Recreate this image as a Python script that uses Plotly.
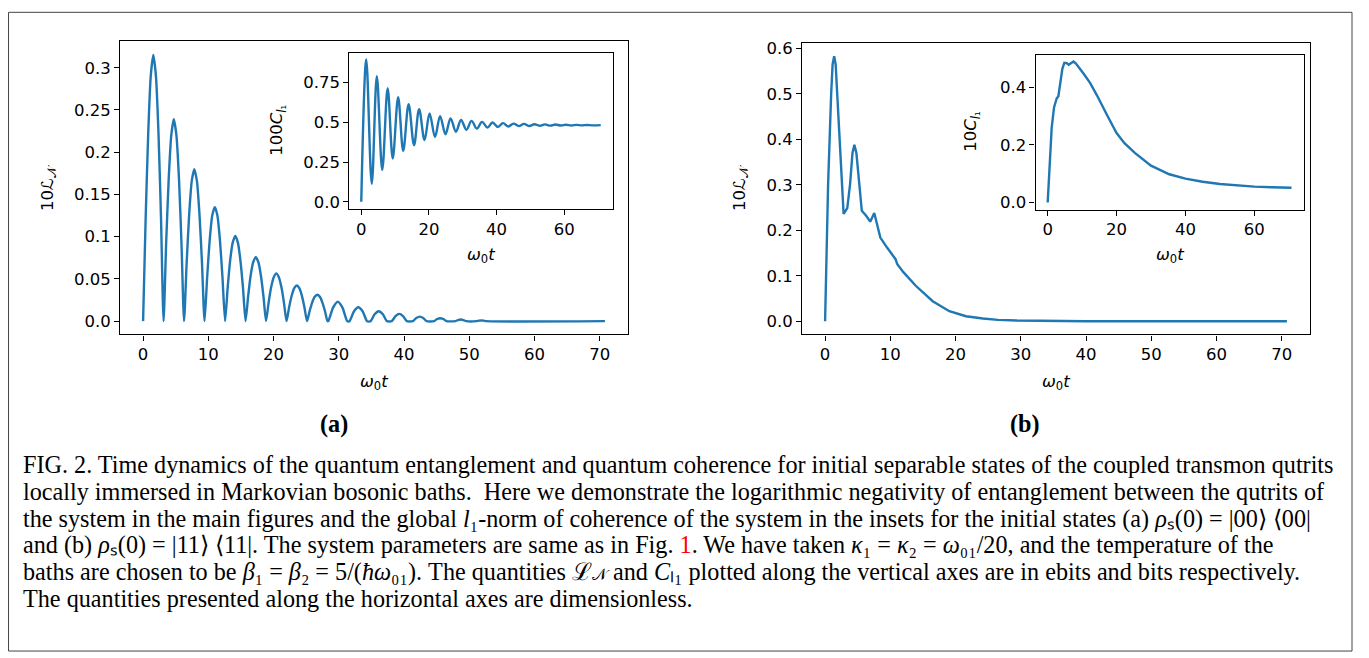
import plotly.graph_objects as go

# page has an 8px body margin, so the figure is drawn 8px right/down of the page origin
W, H = 1361, 650
OFF = 8

# ---------------- data ----------------
# (a) main: 10 L_N vs omega_0 t
t_a = [0, 0.39, 0.79, 1.18, 1.57, 1.96, 2.36, 2.75, 3.14,
       3.53, 3.93, 4.32, 4.71, 5.11, 5.50, 5.89, 6.28,
       6.68, 7.07, 7.46, 7.85, 8.25, 8.64, 9.03, 9.42,
       9.82, 10.21, 10.60, 11.00, 11.39, 11.78, 12.17, 12.57,
       12.96, 13.35, 13.74, 14.14, 14.53, 14.92, 15.32, 15.71,
       16.10, 16.49, 16.89, 17.28, 17.67, 18.06, 18.46, 18.85,
       19.24, 19.63, 20.03, 20.42, 20.81, 21.21, 21.60, 21.99,
       22.38, 22.78, 23.17, 23.56, 23.95, 24.35, 24.74, 25.13,
       25.53, 25.92, 26.31, 26.70, 27.10, 27.49, 27.88, 28.27,
       28.40, 29.12, 29.85, 30.57, 31.30,
       31.64, 32.32, 32.99, 33.67, 34.34,
       34.88, 35.50, 36.13, 36.76, 37.38,
       38.12, 38.70, 39.27, 39.85, 40.42,
       41.36, 41.89, 42.41, 42.94, 43.46,
       44.60, 45.08, 45.55, 46.03, 46.50,
       47.84, 48.27, 48.69, 49.12, 49.54,
       51.09, 51.47, 51.84, 52.22, 52.59,
       70.8]
ln_a = [0, 0.121, 0.223, 0.291, 0.315, 0.291, 0.223, 0.121, 0,
        0.091, 0.169, 0.220, 0.239, 0.220, 0.169, 0.091, 0,
        0.069, 0.127, 0.166, 0.180, 0.166, 0.127, 0.069, 0,
        0.052, 0.096, 0.125, 0.135, 0.125, 0.096, 0.052, 0,
        0.039, 0.072, 0.093, 0.101, 0.093, 0.072, 0.039, 0,
        0.029, 0.054, 0.070, 0.0757, 0.070, 0.054, 0.029, 0,
        0.0217, 0.040, 0.052, 0.0566, 0.052, 0.040, 0.0217, 0,
        0.0162, 0.030, 0.039, 0.0422, 0.039, 0.030, 0.0162, 0,
        0.012, 0.022, 0.0288, 0.0312, 0.0288, 0.022, 0.012, 0,
        0, 0.016, 0.023, 0.016, 0,
        0, 0.0115, 0.0164, 0.0115, 0,
        0, 0.0082, 0.0117, 0.0082, 0,
        0, 0.0060, 0.0086, 0.0060, 0,
        0, 0.0038, 0.0054, 0.0038, 0,
        0, 0.0025, 0.0035, 0.0025, 0,
        0, 0.0013, 0.0019, 0.0013, 0,
        0, 0.0006, 0.0008, 0.0006, 0,
        0]

# (a) inset: 100 C_l1 (peaks and troughs)
t_ai = [0, 1.47, 3.1, 4.6, 6.2, 7.8, 9.3, 10.9, 12.4, 14.0, 15.6, 17.1, 18.7,
        20.2, 21.8, 23.3, 24.9, 26.4, 28.0, 29.5, 31.1, 32.6, 34.2, 35.7,
        37.3, 38.8, 40.4, 41.9, 43.5, 45.0, 46.6, 48.1, 49.7, 51.2, 52.8,
        54.3, 55.9, 57.4, 59.0, 60.5, 62.1, 63.6, 65.2, 66.7, 68.3, 70.8]
c_ai = [0, 0.896, 0.114, 0.79, 0.20, 0.714, 0.272, 0.658, 0.32, 0.614, 0.356,
        0.583, 0.389, 0.556, 0.408, 0.539, 0.425, 0.525, 0.441, 0.515, 0.453,
        0.509, 0.46, 0.503, 0.467, 0.499, 0.471, 0.495, 0.474, 0.492, 0.476,
        0.490, 0.477, 0.488, 0.478, 0.487, 0.479, 0.486, 0.480, 0.485, 0.480,
        0.484, 0.481, 0.483, 0.481, 0.482]

# (b) main: 10 L_N
t_b = [0, 0.46, 0.93, 1.15, 1.39, 1.62, 1.86, 2.53, 2.84, 3.4, 3.82, 4.2,
       4.49, 4.8, 5.2, 5.63, 6.3, 6.92, 7.54, 8.47, 9.5, 10.8, 11.05, 12.0,
       13.9, 16.5, 19.05, 20.0, 21.6, 24.2, 26.5, 29.4, 33.0, 40.0, 70.8]
ln_b = [0, 0.30, 0.50, 0.565, 0.583, 0.565, 0.50, 0.30, 0.236, 0.249, 0.30,
        0.37, 0.388, 0.37, 0.30, 0.243, 0.232, 0.219, 0.238, 0.184, 0.162,
        0.1365, 0.126, 0.108, 0.078, 0.044, 0.022, 0.018, 0.011, 0.006, 0.003,
        0.0015, 0.0005, 0, 0]

# (b) inset: 10 C_l1
t_bi = [0, 0.35, 0.68, 1.16, 1.84, 2.6, 3.1, 3.58, 4.26, 4.84, 5.5, 6.1, 6.8,
        7.5, 8.2, 9.3, 10.5, 12.3, 14.3, 17.3, 20.0, 22.3, 25.3, 30.0, 35.3,
        40.0, 45.0, 50.0, 55.0, 60.0, 65.0, 70.8]
c_bi = [0, 0.09, 0.173, 0.26, 0.33, 0.361, 0.369, 0.413, 0.464, 0.485, 0.484,
        0.478, 0.483, 0.489, 0.482, 0.466, 0.446, 0.415, 0.372, 0.302, 0.241,
        0.206, 0.172, 0.128, 0.098, 0.083, 0.072, 0.064, 0.059, 0.055, 0.053,
        0.051]

xt_main = [0, 10, 20, 30, 40, 50, 60, 70]
xt_inset = [0, 20, 40, 60]
yt_a = [0, 0.05, 0.1, 0.15, 0.2, 0.25, 0.3]
yl_a = ["0.0", "0.05", "0.1", "0.15", "0.2", "0.25", "0.3"]
yt_ai = [0, 0.25, 0.5, 0.75]
yl_ai = ["0.0", "0.25", "0.5", "0.75"]
yt_b = [0, 0.1, 0.2, 0.3, 0.4, 0.5, 0.6]
yl_b = ["0.0", "0.1", "0.2", "0.3", "0.4", "0.5", "0.6"]
yt_bi = [0, 0.2, 0.4]
yl_bi = ["0.0", "0.2", "0.4"]

caption_lines = [
    "FIG. 2. Time dynamics of the quantum entanglement and quantum coherence for initial separable states of the coupled transmon qutrits",
    "locally immersed in Markovian bosonic baths.  Here we demonstrate the logarithmic negativity of entanglement between the qutrits of",
    "the system in the main figures and the global <i>l</i>₁-norm of coherence of the system in the insets for the initial states (a) <i>ρ</i>ₛ(0) = |00⟩ ⟨00|",
    "and (b) <i>ρ</i>ₛ(0) = |11⟩ ⟨11|. The system parameters are same as in Fig. <span style='color:red'>1</span>. We have taken <i>κ</i>₁ = <i>κ</i>₂ = <i>ω</i>₀₁/20, and the temperature of the",
    "baths are chosen to be <i>β</i>₁ = <i>β</i>₂ = 5/(<i>ħω</i>₀₁). The quantities ℒ<span style='font-size:16px'>𝒩</span> and <i>C</i>ₗ₁ plotted along the vertical axes are in ebits and bits respectively.",
    "The quantities presented along the horizontal axes are dimensionless.",
]

# ---------------- layout helpers (arguments are page pixels) ----------------
def px_x(p):
    return (p - OFF) / W

def px_y(p):
    return 1 - (p - OFF) / H

BLUE = "#1f77b4"
TICKFONT = dict(family="DejaVu Sans", size=16.5, color="black")

def axis(dom, rng, tv, tt=None):
    d = dict(domain=dom, range=rng, tickvals=tv, showline=True, linecolor="black",
             linewidth=1.1, mirror=True, ticks="outside", ticklen=5, tickwidth=1.1,
             tickcolor="black", showgrid=False, zeroline=False, tickfont=TICKFONT,
             fixedrange=True)
    if tt is not None:
        d["ticktext"] = tt
    return d

fig = go.Figure()
fig.add_trace(go.Scatter(x=t_a, y=ln_a, mode="lines", line=dict(color=BLUE, width=2.4, shape="spline", smoothing=0.6),
                         xaxis="x", yaxis="y", showlegend=False))
fig.add_trace(go.Scatter(x=t_ai, y=c_ai, mode="lines", line=dict(color=BLUE, width=2.4, shape="spline", smoothing=1.0),
                         xaxis="x2", yaxis="y2", showlegend=False))
fig.add_trace(go.Scatter(x=t_b, y=ln_b, mode="lines", line=dict(color=BLUE, width=2.4),
                         xaxis="x3", yaxis="y3", showlegend=False))
fig.add_trace(go.Scatter(x=t_bi, y=c_bi, mode="lines", line=dict(color=BLUE, width=2.4),
                         xaxis="x4", yaxis="y4", showlegend=False))

xr = [-3.54, 74.34]
fig.update_layout(
    width=W, height=H, margin=dict(l=0, r=0, t=0, b=0),
    paper_bgcolor="white", plot_bgcolor="white",
    xaxis=axis([px_x(120), px_x(628)], xr, xt_main) | dict(anchor="y"),
    yaxis=axis([px_y(334), px_y(37.7)], [-0.0158, 0.3312], yt_a, yl_a) | dict(anchor="x"),
    xaxis2=axis([px_x(349.3), px_x(612.7)], xr, xt_inset) | dict(anchor="y2"),
    yaxis2=axis([px_y(207), px_y(49.7)], [-0.0445, 0.9345], yt_ai, yl_ai) | dict(anchor="x2"),
    xaxis3=axis([px_x(802), px_x(1310)], xr, xt_main) | dict(anchor="y3"),
    yaxis3=axis([px_y(334), px_y(39.3)], [-0.0292, 0.6122], yt_b, yl_b) | dict(anchor="x3"),
    xaxis4=axis([px_x(1035.5), px_x(1303.7)], xr, xt_inset) | dict(anchor="y4"),
    yaxis4=axis([px_y(207.7), px_y(51)], [-0.0245, 0.5135], yt_bi, yl_bi) | dict(anchor="x4"),
)

ann = []
LAB = dict(family="DejaVu Sans", size=16.5, color="black")
xtitle = "<i>ω</i><sub>0</sub><i>t</i>"
for (x, y) in [(374, 383), (1056, 383), (481, 254), (1169.6, 254)]:
    ann.append(dict(x=px_x(x), y=px_y(y), xref="paper", yref="paper", text=xtitle,
                    showarrow=False, font=LAB, xanchor="center", yanchor="middle"))
for (x, y, txt) in [(48, 186, "10ℒ<sub>𝒩</sub>"), (740, 186, "10ℒ<sub>𝒩</sub>"),
                    (278, 128, "100<i>C</i><sub><i>l</i>₁</sub>"), (972, 129, "10<i>C</i><sub><i>l</i>₁</sub>")]:
    ann.append(dict(x=px_x(x), y=px_y(y), xref="paper", yref="paper", text=txt, textangle=-90,
                    showarrow=False, font=LAB, xanchor="center", yanchor="middle"))
SERIF = dict(family="Liberation Serif", size=24.2, color="black")
for (x, txt) in [(333.5, "<b>(a)</b>"), (1025, "<b>(b)</b>")]:
    ann.append(dict(x=px_x(x), y=px_y(424), xref="paper", yref="paper", text=txt,
                    showarrow=False, font=SERIF, xanchor="center", yanchor="middle"))
for i, line in enumerate(caption_lines):
    ann.append(dict(x=px_x(21), y=px_y(465 + 27 * i - 15), xref="paper", yref="paper", text=line,
                    showarrow=False, font=SERIF, xanchor="left", yanchor="top", align="left"))
fig.update_layout(annotations=ann)

fig.add_shape(type="rect", xref="paper", yref="paper", x0=0.0004, x1=px_x(1352), y0=px_y(654), y1=0.9995,
              line=dict(color="#444", width=1), fillcolor="rgba(0,0,0,0)", layer="below")

fig.write_html("out.html")
